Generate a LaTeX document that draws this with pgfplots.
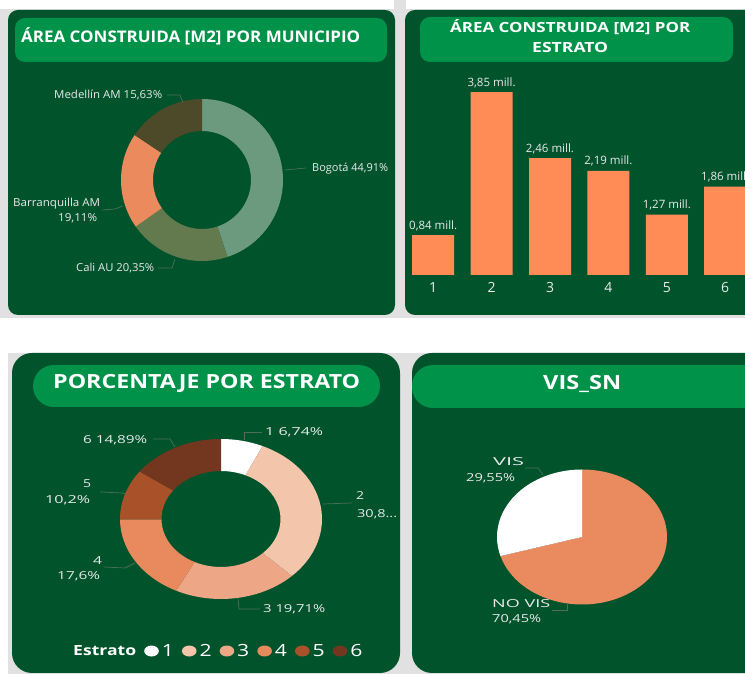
\documentclass[border=0pt]{standalone}
\usepackage{graphicx}
\usepackage{pgfplots}
\pgfplotsset{compat=1.18}
\usepackage{pgfplotstable}
\usepackage{fontspec}
\setmainfont{Open Sans}
\newfontfamily\wide{Open Sans}[FakeStretch=1.26]

\definecolor{pagebg}{HTML}{E1E1E1}
\definecolor{panel}{HTML}{00532B}
\definecolor{pill}{HTML}{009248}
\definecolor{barc}{HTML}{FF8C57}
\definecolor{cBog}{HTML}{6B9A7F}
\definecolor{cCali}{HTML}{63794E}
\definecolor{cBarr}{HTML}{EA8A5D}
\definecolor{cMed}{HTML}{4C4A29}
\definecolor{eA}{HTML}{FFFFFF}
\definecolor{eB}{HTML}{F3C5AB}
\definecolor{eC}{HTML}{EEA786}
\definecolor{eD}{HTML}{E98A5E}
\definecolor{eE}{HTML}{A9522A}
\definecolor{eF}{HTML}{73361E}
\definecolor{visno}{HTML}{E98A5F}
\definecolor{leader}{HTML}{4F6E5A}
\definecolor{labtxt}{HTML}{EAEAEA}

\pgfplotstableread{
idx pct
0 44.91
1 20.35
2 19.11
3 15.63
}\munitab

\pgfplotstableread{
estrato area
1 0.84
2 3.85
3 2.46
4 2.19
5 1.27
6 1.86
}\areatab

\pgfplotstableread{
estrato pct
1 6.74
2 30.86
3 19.71
4 17.6
5 10.2
6 14.89
}\esttab

\pgfplotstableread{
idx pct
0 70.45
1 29.55
}\vistab

% ring/pie slices from a table, clockwise from 12 o'clock
\newcommand\ring[8]{%
 \pgfplotsextra{%
  \xdef\ringacc{90}%
  \foreach \c [count=\i from 0] in {#2}{%
    \pgfplotstablegetelem{\i}{pct}\of#1%
    \pgfmathsetmacro\ringend{\ringacc-3.6*\pgfplotsretval}%
    \fill[\c] ([shift={(\ringacc:#5pt and #6pt)}]axis cs:#3,#4)
      arc[start angle=\ringacc, end angle=\ringend, x radius=#5pt, y radius=#6pt]
      -- ([shift={(\ringend:#7pt and #8pt)}]axis cs:#3,#4)
      arc[start angle=\ringend, end angle=\ringacc, x radius=#7pt, y radius=#8pt] -- cycle;%
    \xdef\ringacc{\ringend}%
  }%
 }%
}

\newcommand\tl[4]{\node[anchor=base west, inner sep=0pt, text=labtxt, font=\fontsize{11}{13}\selectfont] at (#1,#2) {\resizebox{#3pt}{\height}{#4}};}
\newcommand\bl[4]{\node[anchor=base west, inner sep=0pt, text=labtxt, font=\wide\fontsize{11}{13}\selectfont] at (#1,#2) {\resizebox{#3pt}{\height}{#4}};}

\begin{document}
\begin{tikzpicture}[x=1pt,y=1pt]
\useasboundingbox (0,0) rectangle (745,674);
\clip (0,0) rectangle (745,674);
\fill[white] (0,0) rectangle (745,674);
\fill[pagebg] (0,356) rectangle (745,665);
\fill[pagebg] (394,665) rectangle (406,674);
\fill[pagebg] (8,0) rectangle (745,321);
% panels
\fill[panel, rounded corners=10pt] (8,359) rectangle (395,664);
\fill[panel, rounded corners=10pt] (405,359) rectangle (780,664);
\fill[panel, rounded corners=20pt] (12,1) rectangle (400,321);
\fill[panel, rounded corners=20pt] (412,1) rectangle (790,321);
% title pills
\fill[pill, rounded corners=10pt] (15,612) rectangle (387,656);
\fill[pill, rounded corners=10pt] (420,612) rectangle (733,657);
\fill[pill, rounded corners=21pt] (33,267) rectangle (380,309);
\fill[pill, rounded corners=21pt] (412,266) rectangle (790,309);
% titles
\node[anchor=base west, inner sep=0pt, text=white, font=\bfseries\fontsize{16}{18}\selectfont] at (21,631) {\resizebox{339pt}{\height}{ÁREA CONSTRUIDA [M2] POR MUNICIPIO}};
\node[anchor=base west, inner sep=0pt, text=white, font=\bfseries\fontsize{14}{16}\selectfont] at (450,641) {\resizebox{240pt}{\height}{ÁREA CONSTRUIDA [M2] POR}};
\node[anchor=base west, inner sep=0pt, text=white, font=\bfseries\fontsize{14}{16}\selectfont] at (532,621) {\resizebox{76pt}{\height}{ESTRATO}};
\node[anchor=base west, inner sep=0pt, text=white, font=\wide\bfseries\fontsize{19.5}{22}\selectfont] at (53,285) {\resizebox{307pt}{\height}{PORCENTAJE POR ESTRATO}};
\node[anchor=base west, inner sep=0pt, text=white, font=\wide\bfseries\fontsize{19.5}{22}\selectfont] at (543,284) {\resizebox{78pt}{\height}{VIS\_SN}};

% ---- pies and donuts ----
\begin{axis}[at={(0pt,0pt)}, anchor=south west, scale only axis, width=745pt, height=674pt,
  xmin=0, xmax=745, ymin=0, ymax=674, hide axis, clip=false,
  legend columns=-1,
  legend style={at={(axis description cs:0.0940,0.0341)}, anchor=west, draw=none, fill=none,
    inner sep=0pt, text=white, font=\wide\fontsize{16.8}{18}\selectfont, nodes={inner sep=0pt},
    /tikz/every odd column/.append style={column sep=3pt},
    /tikz/every even column/.append style={column sep=8pt}},
  legend image code/.code={\fill[#1] (7.3pt,0pt) ellipse[x radius=7.3pt, y radius=5.5pt];}]
\ring{\munitab}{cBog,cCali,cBarr,cMed}{202}{494}{81}{81}{49}{49}
\ring{\esttab}{eA,eB,eC,eD,eE,eF}{221}{155}{101}{80}{59.5}{48}
\ring{\vistab}{visno,white}{582}{137}{85}{67.5}{0.01}{0.01}
\addlegendimage{empty legend}\addlegendentry{{\bfseries\fontsize{14}{16}\selectfont\resizebox{63pt}{\height}{Estrato}}\hspace{5pt}}
\addlegendimage{fill=eA,draw=none}\addlegendentry{1}
\addlegendimage{fill=eB,draw=none}\addlegendentry{2}
\addlegendimage{fill=eC,draw=none}\addlegendentry{3}
\addlegendimage{fill=eD,draw=none}\addlegendentry{4}
\addlegendimage{fill=eE,draw=none}\addlegendentry{5}
\addlegendimage{fill=eF,draw=none}\addlegendentry{6}
\end{axis}

% ---- bar chart ----
\begin{axis}[at={(404pt,399pt)}, anchor=south west, scale only axis, width=356.24pt, height=213.75pt,
  xmin=0.5, xmax=6.6, ymin=0, ymax=4.5, ybar, bar width=42pt, clip=false,
  axis line style={draw=none}, major tick length=0pt, xtick={1,2,3,4,5,6}, ytick=\empty,
  /pgf/number format/assume math mode=true,
  xticklabel style={text=labtxt, font=\fontsize{14}{16}\selectfont, yshift=-3.5pt},
  nodes near coords={\pgfmathprintnumber[fixed,fixed zerofill,precision=2,use comma]{\pgfplotspointmeta}~mill.},
  every node near coord/.append style={text=labtxt, font=\fontsize{11.5}{13}\selectfont, yshift=1pt}]
\addplot[fill=barc, draw=none] table[x=estrato, y=area] {\areatab};
\end{axis}

% ---- labels top-left ----
\tl{54}{575}{108}{Medellín AM 15,63\%}
\tl{312}{502}{76}{Bogotá 44,91\%}
\tl{13}{467}{87}{Barranquilla AM}
\tl{58}{452}{39}{19,11\%}
\tl{76}{402}{78}{Cali AU 20,35\%}
\draw[leader, line width=0.7pt] (167,579) -- (180,579) -- (183,571);
\draw[leader, line width=0.7pt] (285,504) -- (306,506);
\draw[leader, line width=0.7pt] (102,464) -- (115,465) -- (123,468);
\draw[leader, line width=0.7pt] (158,406) -- (172,406) -- (175,415);

% ---- labels bottom-left ----
\bl{265}{238}{58}{1 6,74\%}
\bl{356}{174}{8}{2}
\bl{357}{156}{40}{30,8...}
\bl{263}{61}{62}{3 19,71\%}
\bl{93}{109}{9}{4}
\bl{57}{94}{43}{17,6\%}
\bl{83}{186}{8}{5}
\bl{45}{170}{45}{10,2\%}
\bl{83}{230}{64}{6 14,89\%}
\draw[leader, line width=0.7pt] (244,234) -- (244,242) -- (262,242);
\draw[leader, line width=0.7pt] (323,170) -- (352,171);
\draw[leader, line width=0.7pt] (238,76) -- (239,65) -- (260,65);
\draw[leader, line width=0.7pt] (104,107) -- (125,106) -- (135,111);
\draw[leader, line width=0.7pt] (100,182) -- (122,181) -- (126,180);
\draw[leader, line width=0.7pt] (153,235) -- (170,235) -- (175,227);

% ---- labels VIS ----
\bl{493}{208}{31}{VIS}
\bl{466}{192}{49}{29,55\%}
\bl{492}{66}{58}{NO VIS}
\bl{492}{51}{49}{70,45\%}
\draw[leader, line width=0.7pt] (525,206) -- (538,206) -- (543,199);
\draw[leader, line width=0.7pt] (552,64) -- (567,64) -- (567,71);
\end{tikzpicture}
\end{document}
